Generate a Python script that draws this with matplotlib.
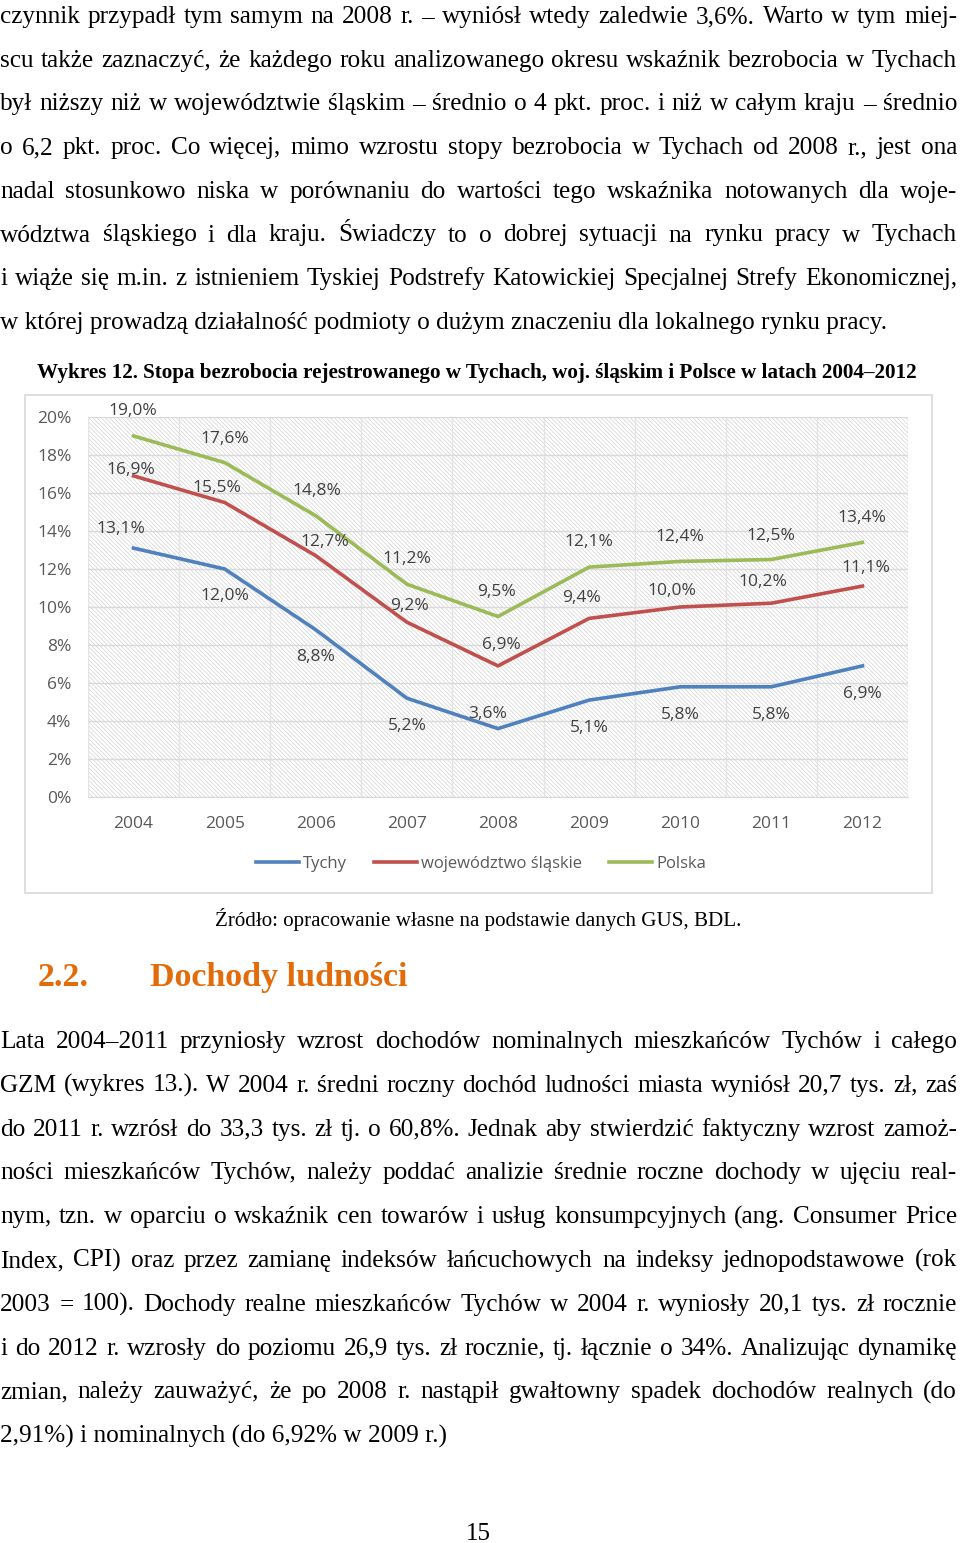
import matplotlib
matplotlib.use("Agg")
import matplotlib.pyplot as plt
import numpy as np
from matplotlib.patches import Rectangle

# ---- data ----
years = ["2004", "2005", "2006", "2007", "2008", "2009", "2010", "2011", "2012"]
tychy = [13.1, 12.0, 8.8, 5.2, 3.6, 5.1, 5.8, 5.8, 6.9]
slaskie = [16.9, 15.5, 12.7, 9.2, 6.9, 9.4, 10.0, 10.2, 11.1]
polska = [19.0, 17.6, 14.8, 11.2, 9.5, 12.1, 12.4, 12.5, 13.4]
series_names = ["Tychy", "województwo śląskie", "Polska"]
y_ticks = [0, 2, 4, 6, 8, 10, 12, 14, 16, 18, 20]

para1 = [
    "czynnik przypadł tym samym na 2008 r. – wyniósł wtedy zaledwie 3,6%. Warto w tym miej-",
    "scu także zaznaczyć, że każdego roku analizowanego okresu wskaźnik bezrobocia w Tychach",
    "był niższy niż w województwie śląskim – średnio o 4 pkt. proc. i niż w całym kraju – średnio",
    "o 6,2 pkt. proc. Co więcej, mimo wzrostu stopy bezrobocia w Tychach od 2008 r., jest ona",
    "nadal stosunkowo niska w porównaniu do wartości tego wskaźnika notowanych dla woje-",
    "wództwa śląskiego i dla kraju. Świadczy to o dobrej sytuacji na rynku pracy w Tychach",
    "i wiąże się m.in. z istnieniem Tyskiej Podstrefy Katowickiej Specjalnej Strefy Ekonomicznej,",
    "w której prowadzą działalność podmioty o dużym znaczeniu dla lokalnego rynku pracy.",
]
para2 = [
    "Lata 2004–2011 przyniosły wzrost dochodów nominalnych mieszkańców Tychów i całego",
    "GZM (wykres 13.). W 2004 r. średni roczny dochód ludności miasta wyniósł 20,7 tys. zł, zaś",
    "do 2011 r. wzrósł do 33,3 tys. zł tj. o 60,8%. Jednak aby stwierdzić faktyczny wzrost zamoż-",
    "ności mieszkańców Tychów, należy poddać analizie średnie roczne dochody w ujęciu real-",
    "nym, tzn. w oparciu o wskaźnik cen towarów i usług konsumpcyjnych (ang. Consumer Price",
    "Index, CPI) oraz przez zamianę indeksów łańcuchowych na indeksy jednopodstawowe (rok",
    "2003 = 100). Dochody realne mieszkańców Tychów w 2004 r. wyniosły 20,1 tys. zł rocznie",
    "i do 2012 r. wzrosły do poziomu 26,9 tys. zł rocznie, tj. łącznie o 34%. Analizując dynamikę",
    "zmian, należy zauważyć, że po 2008 r. nastąpił gwałtowny spadek dochodów realnych (do",
    "2,91%) i nominalnych (do 6,92% w 2009 r.)",
]

plt.rcParams["hatch.linewidth"] = 0.5

W, H = 960, 1543
fig = plt.figure(figsize=(W / 100, H / 100), dpi=100)
page = fig.add_axes([0, 0, 1, 1])
page.set_xlim(0, W)
page.set_ylim(H, 0)
page.axis("off")

serif = "Liberation Serif"
body_fs = 18.2
renderer = fig.canvas.get_renderer()


def word_width(word, **kw):
    t = page.text(0, 0, word, **kw)
    w = t.get_window_extent(renderer).width
    t.remove()
    return w


def justified(lines, y0, step, x0=0, x1=957):
    kw = dict(fontsize=body_fs, family=serif, color="black")
    for i, line in enumerate(lines):
        y = y0 + i * step
        if i == len(lines) - 1:
            page.text(x0, y, line, va="baseline", ha="left", **kw)
            continue
        words = line.split(" ")
        widths = [word_width(w, **kw) for w in words]
        gap = (x1 - x0 - sum(widths)) / (len(words) - 1)
        x = x0
        for w, wd in zip(words, widths):
            page.text(x, y, w, va="baseline", ha="left", **kw)
            x += wd + gap


justified(para1, 23, 43.7)
justified(para2, 1048, 43.8)

page.text(37, 378, "Wykres 12. Stopa bezrobocia rejestrowanego w Tychach, woj. śląskim i Polsce w latach 2004–2012",
          family=serif, fontsize=15.2, fontweight="bold", va="baseline", ha="left")
page.text(478, 926, "Źródło: opracowanie własne na podstawie danych GUS, BDL.",
          family=serif, fontsize=15.1, va="baseline", ha="center")
page.text(38, 986, "2.2.", family=serif, fontsize=24.5, fontweight="bold", color="#E36C0A",
          va="baseline", ha="left")
page.text(150, 986, "Dochody ludności", family=serif, fontsize=24.5, fontweight="bold", color="#E36C0A",
          va="baseline", ha="left")
page.text(478, 1540, "15", family=serif, fontsize=18, va="baseline", ha="center")

# chart frame
page.add_patch(Rectangle((25, 395), 907, 498, facecolor="white", edgecolor="#d9d9d9", lw=1.2))

# ---- chart ----
L, R, T, B = 88, 908, 417, 797
ax = fig.add_axes([L / W, 1 - B / H, (R - L) / W, (B - T) / H])
x = np.arange(len(years))
ax.set_xlim(-0.5, len(years) - 0.5)
ax.set_ylim(0, 20)
ax.patch.set_visible(False)
ax.add_patch(Rectangle((0, 0), 1, 1, transform=ax.transAxes, facecolor="white",
                       edgecolor="#d2d2d2", lw=0, hatch="\\" * 8, zorder=0))

ax.set_yticks(y_ticks)
ax.set_yticklabels([f"{v}%" for v in y_ticks])
ax.set_xticks(x)
ax.set_xticklabels(years)
ax.set_xticks(np.arange(-0.5, len(years)), minor=True)
ax.grid(axis="y", color="#dadada", lw=1, zorder=1)
ax.grid(axis="x", which="minor", color="#e4e4e4", lw=1, zorder=1)
ax.set_axisbelow(True)
for s in ["top", "right", "left"]:
    ax.spines[s].set_visible(False)
ax.spines["bottom"].set_color("#d9d9d9")
ax.tick_params(axis="both", which="both", length=0, colors="#595959", labelsize=12.5)
ax.tick_params(axis="y", pad=12)
ax.tick_params(axis="x", pad=14)
for lab in ax.get_xticklabels() + ax.get_yticklabels():
    lab.set_family("Open Sans")

colors = ["#4F81BD", "#C0504D", "#9BBB59"]
offsets = [
    [(-13, 19), (0, -27), (0, -27), (0, -28), (-10, 15), (0, -28), (0, -28), (0, -28), (0, -28)],
    [(-3, 6), (-8, 14), (9, 14), (3, 16), (3, 21), (-8, 20), (-8, 16), (-8, 21), (3, 18)],
    [(-1, 25), (0, 24), (1, 25), (0, 25), (-1, 24), (0, 25), (0, 24), (0, 24), (-1, 24)],
]
lines = []
for vals, c, name, offs in zip([tychy, slaskie, polska], colors, series_names, offsets):
    ln, = ax.plot(x, vals, color=c, lw=2.6, label=name, zorder=3, solid_joinstyle="round")
    lines.append(ln)
    for xi, v, (dx, dy) in zip(x, vals, offs):
        ax.annotate(f"{v:.1f}%".replace(".", ","), (xi, v), xytext=(dx, dy),
                    textcoords="offset pixels", ha="center", va="center",
                    fontsize=12.5, color="#404040", family="Open Sans", zorder=4)

leg = fig.legend(handles=lines, loc="center", bbox_to_anchor=(481 / W, 1 - 864 / H), ncol=3,
                 frameon=False, handlelength=2.6, handletextpad=0.25, columnspacing=1.6,
                 prop={"family": "Open Sans", "size": 12})
for t in leg.get_texts():
    t.set_color("#595959")

fig.savefig("out.png", dpi=100)
